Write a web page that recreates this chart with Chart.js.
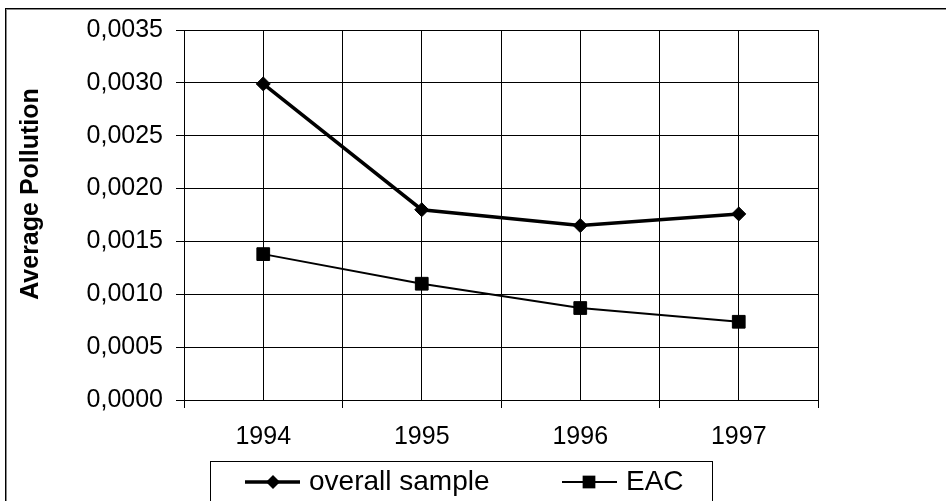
<!DOCTYPE html>
<html>
<head>
<meta charset="utf-8">
<script src="https://cdn.jsdelivr.net/npm/chart.js@4/dist/chart.umd.min.js"></script>
<style>
  html, body { margin: 0; padding: 0; background: #fff; overflow: hidden; }
</style>
</head>
<body>
<canvas id="chart" width="946" height="501"></canvas>
<script>
// data
const years = ["1994", "1995", "1996", "1997"];
const overallSample = [0.00299, 0.00180, 0.00165, 0.00176];
const eac = [0.00138, 0.00110, 0.00087, 0.00074];
const yTicksMax = 0.0035;
const yTicksStep = 0.0005;
const yTitle = "Average Pollution";

const FONT = "'Liberation Sans', Arial, sans-serif";
Chart.defaults.font.family = FONT;
Chart.defaults.color = "#000";

const toPoints = vals => vals.map((v, i) => ({ x: i + 1, y: v }));

// outer frame, y title and the boxed legend
const extras = {
  id: "extras",
  beforeDraw(chart) {
    const ctx = chart.ctx;
    ctx.save();
    ctx.fillStyle = "#fff";
    ctx.fillRect(0, 0, chart.width, chart.height);
    ctx.fillStyle = "#000";
    ctx.fillRect(5, 8, chart.width - 5, 1);
    ctx.fillRect(5, 8, 1, chart.height - 8);
    ctx.fillStyle = "#888";
    ctx.fillRect(6, 9, chart.width - 6, 1);
    ctx.fillRect(6, 9, 1, chart.height - 9);
    ctx.restore();
  },
  afterDraw(chart) {
    const ctx = chart.ctx;
    ctx.save();
    // y axis title
    ctx.translate(31, 194);
    ctx.rotate(-Math.PI / 2);
    ctx.font = "bold 25px " + FONT;
    ctx.textAlign = "center";
    ctx.textBaseline = "middle";
    ctx.fillStyle = "#000";
    ctx.fillText(yTitle, 0, 0);
    ctx.restore();

    // legend
    ctx.save();
    ctx.strokeStyle = "#000";
    ctx.lineWidth = 1;
    ctx.strokeRect(210.5, 461.5, 502, 60);
    const ly = 482;
    const items = [
      { ds: chart.data.datasets[0], x0: 245, x1: 300, mx: 273, tx: 309 },
      { ds: chart.data.datasets[1], x0: 562, x1: 617, mx: 589, tx: 626 }
    ];
    items.forEach(it => {
      ctx.strokeStyle = it.ds.borderColor;
      ctx.lineWidth = it.ds.borderWidth;
      ctx.beginPath();
      ctx.moveTo(it.x0, ly);
      ctx.lineTo(it.x1, ly);
      ctx.stroke();
      ctx.fillStyle = it.ds.pointBackgroundColor;
      ctx.beginPath();
      if (it.ds.pointStyle === "rectRot") {
        const r = it.ds.pointRadius;
        ctx.moveTo(it.mx, ly - r);
        ctx.lineTo(it.mx + r, ly);
        ctx.lineTo(it.mx, ly + r);
        ctx.lineTo(it.mx - r, ly);
        ctx.closePath();
      } else {
        const h = it.ds.pointRadius * Math.SQRT1_2;
        ctx.rect(it.mx - h, ly - h, 2 * h, 2 * h);
      }
      ctx.fill();
      ctx.font = "28px " + FONT;
      ctx.textAlign = "left";
      ctx.textBaseline = "middle";
      ctx.fillStyle = "#000";
      ctx.fillText(it.ds.label, it.tx, ly);
    });
    ctx.restore();
  }
};

new Chart(document.getElementById("chart"), {
  type: "line",
  data: {
    datasets: [
      {
        label: "overall sample",
        data: toPoints(overallSample),
        borderColor: "#000",
        borderWidth: 3.5,
        pointStyle: "rectRot",
        pointRadius: 7,
        pointBorderWidth: 1,
        pointBackgroundColor: "#000",
        pointBorderColor: "#000",
        tension: 0
      },
      {
        label: "EAC",
        data: toPoints(eac),
        borderColor: "#000",
        borderWidth: 2,
        pointStyle: "rect",
        pointRadius: 9,
        pointBorderWidth: 1,
        pointBackgroundColor: "#000",
        pointBorderColor: "#000",
        tension: 0
      }
    ]
  },
  options: {
    responsive: false,
    animation: false,
    events: [],
    layout: { padding: { top: 30, right: 128, bottom: 0, left: 0 } },
    plugins: {
      legend: { display: false },
      tooltip: { enabled: false }
    },
    scales: {
      x: {
        type: "linear",
        min: 0.5,
        max: 4.5,
        afterBuildTicks(scale) {
          const t = [];
          for (let v = 0.5; v <= 4.5; v += 0.5) t.push({ value: v });
          scale.ticks = t;
        },
        afterFit(scale) { scale.height = 101; },
        ticks: {
          autoSkip: false,
          maxRotation: 0,
          padding: 14,
          font: { size: 25 },
          color: "#000",
          callback: v => Number.isInteger(v) ? years[v - 1] : ""
        },
        grid: {
          color: "#000",
          lineWidth: 1,
          tickLength: 8,
          tickColor: c => (c.tick && Number.isInteger(c.tick.value)) ? "rgba(0,0,0,0)" : "#000"
        },
        border: { color: "#000", width: 1 }
      },
      y: {
        min: 0,
        max: yTicksMax,
        afterFit(scale) { scale.width = 184; },
        ticks: {
          stepSize: yTicksStep,
          padding: 13,
          font: { size: 25 },
          color: "#000",
          callback: v => v.toFixed(4).replace(".", ",")
        },
        grid: { color: "#000", lineWidth: 1, tickLength: 8, tickColor: "#000" },
        border: { color: "#000", width: 1 }
      }
    }
  },
  plugins: [extras]
});
</script>
</body>
</html>
